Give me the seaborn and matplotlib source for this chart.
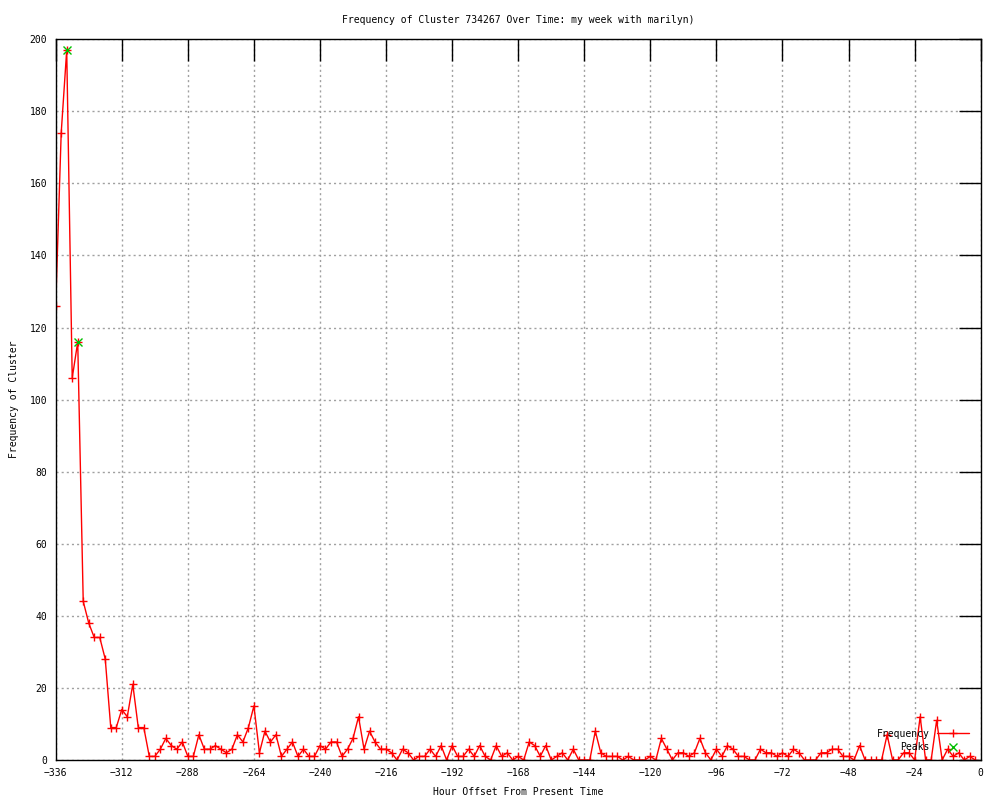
import matplotlib
matplotlib.use("Agg")
import matplotlib.pyplot as plt
import numpy as np
import pandas as pd
import seaborn as sns

# hours before present, every 2 hours
hours = list(range(-336, 0, 2))
frequency = [
    126, 174, 197, 106, 116, 44, 38, 34, 34, 28,
    9, 9, 14, 12, 21, 9, 9, 1, 1, 3,
    6, 4, 3, 5, 1, 1, 7, 3, 3, 4,
    3, 2, 3, 7, 5, 9, 15, 2, 8, 5,
    7, 1, 3, 5, 1, 3, 1, 1, 4, 3,
    5, 5, 1, 3, 6, 12, 3, 8, 5, 3,
    3, 2, 0, 3, 2, 0, 1, 1, 3, 1,
    4, 0, 4, 1, 1, 3, 1, 4, 1, 0,
    4, 1, 2, 0, 1, 0, 5, 4, 1, 4,
    0, 1, 2, 0, 3, 0, 0, 0, 8, 2,
    1, 1, 1, 0, 1, 0, 0, 0, 1, 0,
    6, 3, 0, 2, 2, 1, 2, 6, 2, 0,
    3, 1, 4, 3, 1, 1, 0, 0, 3, 2,
    2, 1, 2, 1, 3, 2, 0, 0, 0, 2,
    2, 3, 3, 1, 1, 0, 4, 0, 0, 0,
    0, 7, 0, 0, 2, 2, 0, 12, 0, 0,
    11, 0, 3, 1, 2, 0, 1, 0,
]
peak_hours = [-332, -328]
peak_values = [197, 116]

x_ticks = list(range(-336, 1, 24))
y_ticks = list(range(0, 201, 20))

freq_df = pd.DataFrame({"hour": hours, "freq": frequency})
peak_df = pd.DataFrame({"hour": peak_hours, "freq": peak_values})

sns.set_theme(style="white")
plt.rcParams["font.family"] = ["DejaVu Sans Mono"]
plt.rcParams["font.size"] = 7
plt.rcParams["text.color"] = "black"
plt.rcParams["axes.labelcolor"] = "black"
plt.rcParams["xtick.color"] = "black"
plt.rcParams["ytick.color"] = "black"

fig = plt.figure(figsize=(10, 8), dpi=100)
ax = fig.add_axes([0.0557, 0.05, 0.925, 0.901])

sns.lineplot(data=freq_df, x="hour", y="freq", ax=ax, color="#ff0000",
             linewidth=1, marker="+", markersize=6, markeredgewidth=1,
             markeredgecolor="#ff0000", label="Frequency")
sns.lineplot(data=peak_df, x="hour", y="freq", ax=ax, color="#00c000",
             linestyle="none", marker="x", markersize=5.5, markeredgewidth=1,
             markeredgecolor="#00c000", label="Peaks")

ax.set_xlim(-336, 0)
ax.set_ylim(0, 200)
ax.set_xticks(x_ticks)
ax.set_yticks(y_ticks)
ax.grid(True, color="#a0a0a0", linestyle=(0, (1.5, 2.2)), linewidth=1)
ax.tick_params(direction="in", length=16, width=1, color="black",
               top=True, right=True, labelsize=7, pad=6, labelcolor="black")
for s in ax.spines.values():
    s.set_color("black")
    s.set_linewidth(1)

ax.set_title("Frequency of Cluster 734267 Over Time: my week with marilyn)",
             fontsize=7, pad=12, color="black")
ax.set_xlabel("Hour Offset From Present Time", fontsize=7, labelpad=6)
ax.set_ylabel("Frequency of Cluster", fontsize=7, labelpad=8)

ax.legend(loc="lower right", bbox_to_anchor=(0.997, -0.001), frameon=False,
          markerfirst=False, handlelength=3.3, labelspacing=0.35,
          handletextpad=0.8, fontsize=7, labelcolor="black")

fig.savefig("out.png", dpi=100)
